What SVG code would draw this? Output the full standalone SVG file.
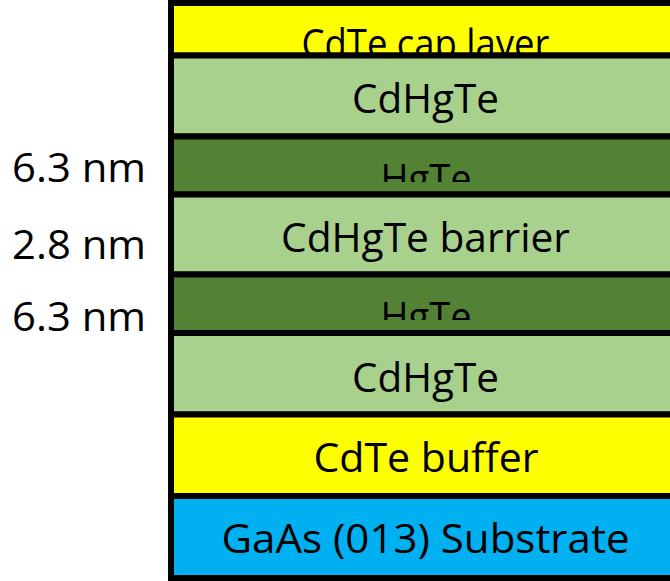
<svg xmlns="http://www.w3.org/2000/svg" width="670" height="581" viewBox="0 0 670 581">
<style>
.layer{stroke:#000;stroke-width:6}
.t{font-family:"Open Sans","Noto Sans",sans-serif;font-size:40px;fill:#000;text-anchor:middle}
.yl{fill:#FFFF00}.lg{fill:#A9D18E}.dg{fill:#548235}.bl{fill:#00B0F0}
</style>
<defs>
<clipPath id="clipCap"><rect x="174" y="6" width="500" height="47"/></clipPath>
<clipPath id="clipHg1"><rect x="174" y="140" width="500" height="42"/></clipPath>
<clipPath id="clipHg2"><rect x="174" y="278" width="500" height="42"/></clipPath>
</defs>
<rect width="670" height="581" fill="#fff"/>
<g id="cap-layer">
<rect class="layer yl" x="171" y="3" width="505" height="52.5"/>
<text class="t" x="425.5" y="58" textLength="248" lengthAdjust="spacingAndGlyphs" clip-path="url(#clipCap)">CdTe cap layer</text>
</g>
<g id="cdhgte-top">
<rect class="layer lg" x="171" y="55.5" width="505" height="81"/>
<text class="t" x="425.5" y="113" textLength="147" lengthAdjust="spacingAndGlyphs">CdHgTe</text>
</g>
<g id="hgte-1">
<rect class="layer dg" x="171" y="136.5" width="505" height="58"/>
<text class="t" x="426" y="193" textLength="91" lengthAdjust="spacingAndGlyphs" clip-path="url(#clipHg1)">HgTe</text>
</g>
<g id="barrier">
<rect class="layer lg" x="171" y="194.5" width="505" height="80"/>
<text class="t" x="425.5" y="252" textLength="289" lengthAdjust="spacingAndGlyphs">CdHgTe barrier</text>
</g>
<g id="hgte-2">
<rect class="layer dg" x="171" y="274.5" width="505" height="58.5"/>
<text class="t" x="426" y="331" textLength="91" lengthAdjust="spacingAndGlyphs" clip-path="url(#clipHg2)">HgTe</text>
</g>
<g id="cdhgte-bottom">
<rect class="layer lg" x="171" y="333" width="505" height="81.5"/>
<text class="t" x="425.5" y="392" textLength="147" lengthAdjust="spacingAndGlyphs">CdHgTe</text>
</g>
<g id="buffer">
<rect class="layer yl" x="171" y="414.5" width="505" height="81.5"/>
<text class="t" x="426" y="472" textLength="225" lengthAdjust="spacingAndGlyphs">CdTe buffer</text>
</g>
<g id="substrate">
<rect class="layer bl" x="171" y="496" width="505" height="82"/>
<text class="t" x="425.5" y="553" textLength="408" lengthAdjust="spacingAndGlyphs">GaAs (013) Substrate</text>
</g>
<g id="labels">
<text class="t" x="79" y="182" textLength="134" lengthAdjust="spacingAndGlyphs">6.3 nm</text>
<text class="t" x="79" y="259" textLength="134" lengthAdjust="spacingAndGlyphs">2.8 nm</text>
<text class="t" x="79" y="331" textLength="134" lengthAdjust="spacingAndGlyphs">6.3 nm</text>
</g>
<g id="connectors"/>
</svg>
